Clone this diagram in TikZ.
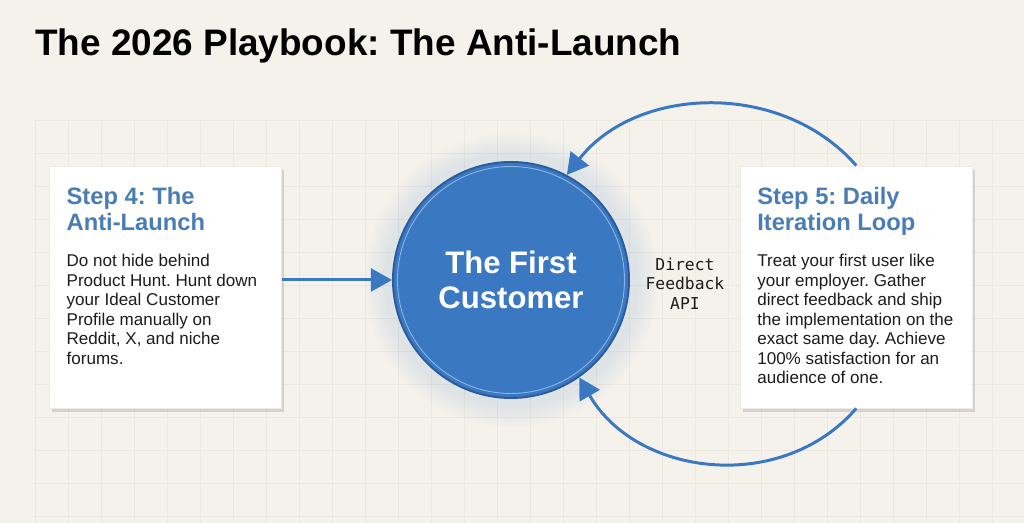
\documentclass[tikz,border=0pt]{standalone}
\usepackage{fontspec}
\setmainfont{Liberation Sans}
\setmonofont{DejaVu Sans Mono}
\usepackage{tikz}
\usetikzlibrary{positioning,arrows.meta,shadows}
\frenchspacing
\definecolor{paper}{HTML}{F5F2EC}
\definecolor{gridgray}{HTML}{ECE8E0}
\definecolor{hubblue}{HTML}{3B78C2}
\definecolor{hubedge}{HTML}{2A5C9C}
\definecolor{ringblue}{HTML}{8CB7E4}
\definecolor{stepblue}{HTML}{4A7DB4}
\definecolor{inkgray}{HTML}{1C1C1C}
\tikzset{
	hub/.style={circle, minimum size=4.72cm, inner sep=0pt, fill=hubblue, draw=hubedge, line width=1.1pt, text=white, align=center, font=\bfseries\fontsize{17.7}{20}\selectfont, circular glow={fill=hubblue, opacity=0.12}},
	card/.style={rectangle, fill=white, draw=black!8, inner sep=0.34cm, node distance=2.2cm, drop shadow={shadow xshift=0.5mm, shadow yshift=-0.8mm, opacity=0.13, fill=black}},
	ring/.style={draw=ringblue, line width=0.5pt},
	api/.style={font=\ttfamily\fontsize{9.3}{11.1}\selectfont, align=center, text=inkgray},
	connect/.style={-{Triangle[length=12pt, width=13pt]}, line width=1.7pt, draw=hubblue},
	gridline/.style={draw=gridgray, line width=0.4pt}
}
\newcommand{\cardtext}[2]{\parbox[t][4.16cm][t]{3.96cm}{\raggedright\vspace*{2.5pt}%
{\color{stepblue}\bfseries\fontsize{13.5}{14.8}\selectfont #1\par}\vspace{9.4pt}%
{\color{inkgray}\fontsize{9.7}{11.1}\selectfont #2\par}}}

\begin{document}
\begin{tikzpicture}
% paper and grid
\fill[paper] (-10.22,-4.86) rectangle (10.26,5.6);
\useasboundingbox (-10.22,-4.86) rectangle (10.26,5.6);
\draw[gridline, shift={(-9.52,3.2)}, step=0.66cm] (0,0) grid (19.78,-8.06);

\node[anchor=base west, inner sep=0pt, font=\bfseries\fontsize{21}{24}\selectfont] (Title) at (-9.52,4.48) {The 2026 Playbook: The Anti-Launch};

\node[hub] (First) at (0,0) {The First\\Customer};
\draw[ring] (First) circle[radius=2.27cm];
\node[card] (Step4) [left=of First, yshift=-1.4mm] {\cardtext{Step 4: The\\Anti-Launch}{Do not hide behind\\Product Hunt. Hunt down\\your Ideal Customer\\Profile manually on\\Reddit, X, and niche\\forums.}};
\node[card] (Step5) [right=of First, yshift=-1.4mm] {\cardtext{Step 5: Daily\\Iteration Loop}{Treat your first user like\\your employer. Gather\\direct feedback and ship\\the implementation on the\\exact same day. Achieve\\100\% satisfaction for an\\audience of one.}};
\path (First) to node[api] {Direct\\Feedback\\API} (Step5);

\draw[connect] (Step4.east |- First) -- (First);
% the daily loop
\draw[connect] (Step5.north) to[out=131, in=52] (First.62);
\draw[connect] (Step5.south) to[out=229, in=-60, looseness=1.05] (First.-55);
\end{tikzpicture}
\end{document}
